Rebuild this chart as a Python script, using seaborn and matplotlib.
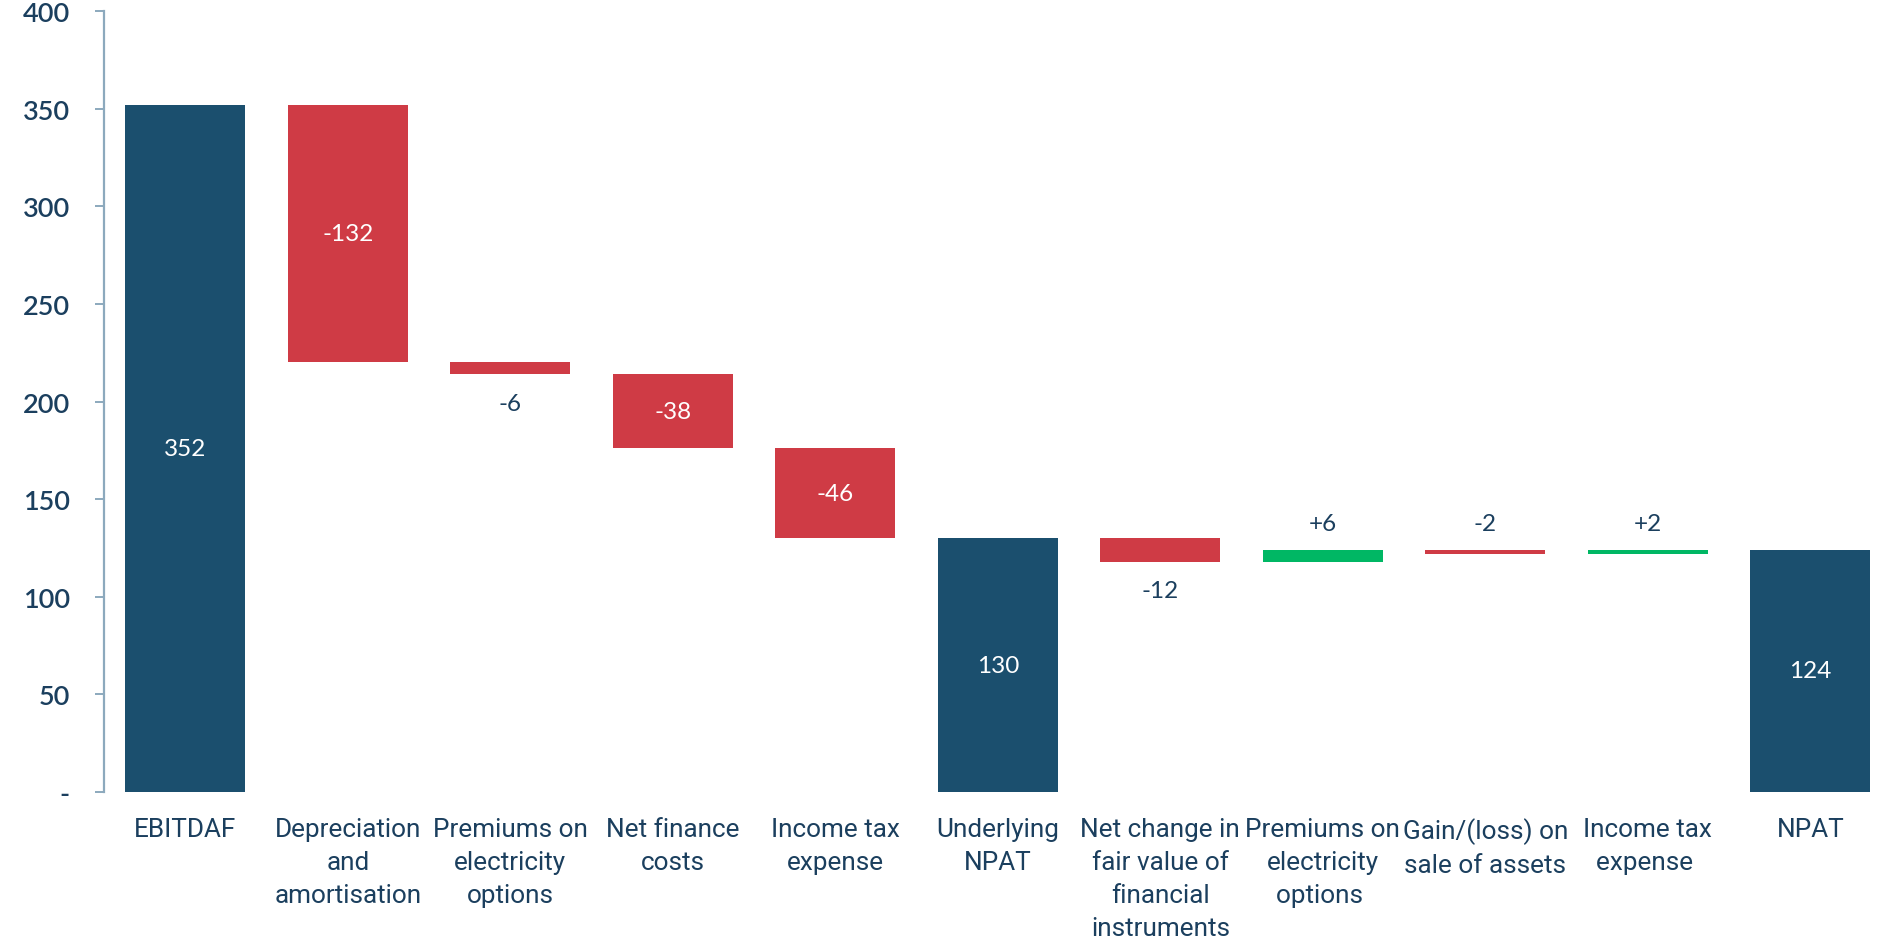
import numpy as np
import pandas as pd
import matplotlib
matplotlib.use("Agg")
import matplotlib.pyplot as plt
import seaborn as sns

# ---- data ----
categories = ["EBITDAF", "Depreciation\nand\namortisation", "Premiums on\nelectricity\noptions",
              "Net finance\ncosts", "Income tax\nexpense", "Underlying\nNPAT",
              "Net change in\nfair value of\nfinancial\ninstruments", "Premiums on\nelectricity\noptions ",
              "Gain/(loss) on\nsale of assets", "Income tax\nexpense ", "NPAT"]
values = [352, -132, -6, -38, -46, 130, -12, 6, -2, 2, 124]
kinds = ["total", "delta", "delta", "delta", "delta", "total", "delta", "delta", "delta", "delta", "total"]
value_labels = ["352", "-132", "-6", "-38", "-46", "130", "-12", "+6", "-2", "+2", "124"]
label_place = ["inside", "inside", "below", "inside", "inside", "inside", "below", "above", "above", "above", "inside"]
y_ticks = [0, 50, 100, 150, 200, 250, 300, 350, 400]
y_tick_labels = ["-", "50", "100", "150", "200", "250", "300", "350", "400"]

NAVY = "#1B4F6E"
RED = "#CF3B45"
GREEN = "#00B764"
TEXT = "#1B3F5E"
SPINE = "#8CA9BD"

# waterfall geometry from data
bottoms, heights, colors = [], [], []
running = 0
for v, k in zip(values, kinds):
    if k == "total":
        running = v
        bottoms.append(0); heights.append(v); colors.append(NAVY)
    else:
        new = running + v
        bottoms.append(min(running, new)); heights.append(abs(v))
        colors.append(GREEN if v > 0 else RED)
        running = new
bottoms = np.array(bottoms, float)
heights = np.array(heights, float)

df = pd.DataFrame({"cat": categories, "h": heights})

sns.set_theme(style="white")
plt.rcParams["font.family"] = ["Lato", "DejaVu Sans"]

fig = plt.figure(figsize=(18.77, 9.45), dpi=100)
ax = fig.add_axes([104 / 1877, 1 - 793 / 945, 1 - 104 / 1877, (793 - 12) / 945])

sns.barplot(data=df, x="cat", y="h", order=categories, bottom=bottoms, color=NAVY,
            width=0.74, errorbar=None, ax=ax, linewidth=0, saturation=1)
for p, c in zip(ax.patches, colors):
    p.set_facecolor(c)

ax.set_xlim(-0.5, 10.41)
ax.set_ylim(0, 400)
ax.set_xlabel(""); ax.set_ylabel("")

for s in ["top", "right", "bottom"]:
    ax.spines[s].set_visible(False)
ax.spines["left"].set_color(SPINE)
ax.spines["left"].set_linewidth(1.6)

ax.set_yticks(y_ticks)
ax.set_yticklabels(y_tick_labels, fontsize=19.5, color=TEXT, fontweight="semibold")
ax.tick_params(axis="y", which="major", left=True, length=6.5, width=1.4, color=SPINE, pad=18)
ax.set_xticks(range(len(categories)))
ax.set_xticklabels(categories, fontsize=18.8, color=TEXT, linespacing=1.47,
                   family=["Liberation Sans Narrow", "Roboto"], va="top")
ax.tick_params(axis="x", length=0, pad=18)

for i, (b, h, lab, pl) in enumerate(zip(bottoms, heights, value_labels, label_place)):
    if pl == "inside":
        ax.text(i, b + h / 2, lab, ha="center", va="center", color="white", fontsize=17.5)
    elif pl == "above":
        ax.annotate(lab, (i, b + h), xytext=(0, 19), textcoords="offset points",
                    ha="center", va="center", color=TEXT, fontsize=17.5)
    else:
        ax.annotate(lab, (i, b), xytext=(0, -21), textcoords="offset points",
                    ha="center", va="center", color=TEXT, fontsize=17.5)

fig.savefig("out.png", dpi=100)
